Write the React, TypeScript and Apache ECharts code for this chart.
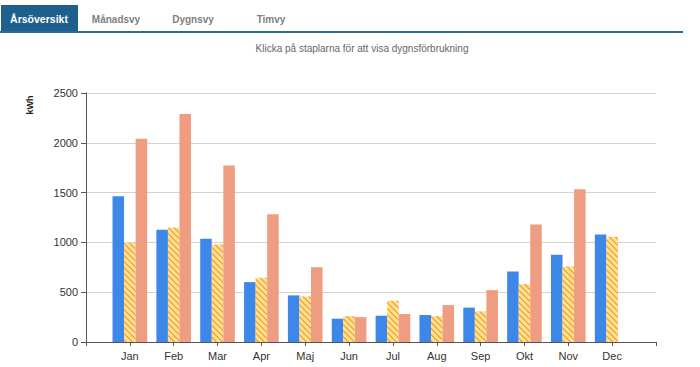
import React, { useEffect, useRef } from "react";
import * as echarts from "echarts";

// Månadsförbrukning i kWh för tre år
const months = ["Jan", "Feb", "Mar", "Apr", "Maj", "Jun", "Jul", "Aug", "Sep", "Okt", "Nov", "Dec"];
const currentYear = [1463, 1126, 1036, 601, 468, 234, 264, 271, 345, 708, 876, 1079];
const previousYear = [996, 1149, 979, 645, 458, 261, 415, 261, 308, 581, 758, 1056];
const twoYearsAgo: (number | null)[] = [2041, 2289, 1773, 1282, 751, 250, 281, 371, 521, 1179, 1533, null];

const tabs = ["Årsöversikt", "Månadsvy", "Dygnsvy", "Timvy"];
const subtitle = "Klicka på staplarna för att visa dygnsförbrukning";
const unitLabel = "kWh";

// Diagonal hatch tile
function stripeTile(base: string, stripe: string, size: number, width: number) {
  const c = document.createElement("canvas");
  c.width = size;
  c.height = size;
  const ctx = c.getContext("2d")!;
  ctx.fillStyle = base;
  ctx.fillRect(0, 0, size, size);
  ctx.fillStyle = stripe;
  for (let x = 0; x < size; x++) {
    for (let y = 0; y < size; y++) {
      if ((x - y + size) % size < width) ctx.fillRect(x, y, 1, 1);
    }
  }
  return c;
}

// Fine checker tile
function checkerTile(a: string, b: string) {
  const c = document.createElement("canvas");
  c.width = 2;
  c.height = 2;
  const ctx = c.getContext("2d")!;
  ctx.fillStyle = a;
  ctx.fillRect(0, 0, 2, 2);
  ctx.fillStyle = b;
  ctx.fillRect(0, 0, 1, 1);
  ctx.fillRect(1, 1, 1, 1);
  return c;
}

const pad = <T,>(arr: T[]) => [null, ...arr, null];

export default function App() {
  const ref = useRef<HTMLDivElement>(null);

  useEffect(() => {
    if (!ref.current) return;
    const chart = echarts.init(ref.current, null, { renderer: "svg" });

    const hatch = stripeTile("#ffe092", "#f5ab3c", 6, 2);
    const checker = checkerTile("#f2a489", "#eb957a");

    const tabCenters = [39, 116, 193, 271];

    chart.setOption({
      animation: false,
      backgroundColor: "#ffffff",
      grid: {
        left: 86,
        top: 93,
        width: 570,
        height: 249,
        containLabel: false,
        outerBoundsMode: "none",
      },
      xAxis: {
        type: "category",
        data: ["", ...months, ""],
        boundaryGap: false,
        axisLine: { lineStyle: { color: "#555555", width: 1 } },
        axisTick: { show: true, length: 4, interval: 0, lineStyle: { color: "#555555" } },
        axisLabel: {
          interval: 0,
          margin: 8,
          color: "#333333",
          fontSize: 11,
          fontFamily: "Liberation Sans, Arial, sans-serif",
        },
        splitLine: { show: false },
      },
      yAxis: {
        type: "value",
        min: 0,
        max: 2500,
        interval: 500,
        axisLine: { show: true, lineStyle: { color: "#555555", width: 1 } },
        axisTick: { show: true, length: 5, lineStyle: { color: "#555555" } },
        axisLabel: {
          margin: 8,
          color: "#333333",
          fontSize: 11,
          fontFamily: "Liberation Sans, Arial, sans-serif",
          formatter: (v: number) => String(v),
        },
        splitLine: { show: true, lineStyle: { color: "#d3d3d3", width: 1 } },
      },
      series: [
        {
          type: "bar",
          name: "currentYear",
          data: pad(currentYear),
          barGap: "0%",
          barCategoryGap: "21%",
          itemStyle: { color: "#3d87e8" },
        },
        {
          type: "bar",
          name: "previousYear",
          data: pad(previousYear),
          barGap: "0%",
          barCategoryGap: "21%",
          itemStyle: {
            color: { image: hatch, repeat: "repeat", imageWidth: 6, imageHeight: 6 },
          },
        },
        {
          type: "bar",
          name: "twoYearsAgo",
          data: pad(twoYearsAgo),
          barGap: "0%",
          barCategoryGap: "21%",
          itemStyle: {
            color: { image: checker, repeat: "repeat", imageWidth: 2, imageHeight: 2 },
          },
        },
      ],
      graphic: [
        {
          type: "rect",
          shape: { x: 1, y: 5, width: 77, height: 27 },
          style: { fill: "#1f5f8e" },
          silent: true,
        },
        {
          type: "rect",
          shape: { x: 0, y: 31, width: 683, height: 2 },
          style: { fill: "#2b6a99" },
          silent: true,
        },
        ...tabs.map((t, i) => ({
          type: "text",
          x: tabCenters[i],
          y: 19,
          style: {
            text: t,
            fill: i === 0 ? "#ffffff" : "#808080",
            font: `bold ${i === 0 ? 10.5 : 10}px "Liberation Sans", Arial, sans-serif`,
            align: "center",
            verticalAlign: "middle",
          },
          silent: true,
        })),
        {
          type: "text",
          x: 362,
          y: 48,
          style: {
            text: subtitle,
            fill: "#666666",
            font: '10px "Liberation Sans", Arial, sans-serif',
            align: "center",
            verticalAlign: "middle",
          },
          silent: true,
        },
        {
          type: "text",
          x: 30,
          y: 105,
          rotation: Math.PI / 2,
          style: {
            text: unitLabel,
            fill: "#222222",
            font: 'bold 9px "Liberation Sans", Arial, sans-serif',
            align: "center",
            verticalAlign: "middle",
          },
          silent: true,
        },
      ],
    });

    return () => chart.dispose();
  }, []);

  return (
    <div
      ref={ref}
      style={{ position: "fixed", left: 0, top: 0, width: 700, height: 367, background: "#ffffff" }}
    />
  );
}
